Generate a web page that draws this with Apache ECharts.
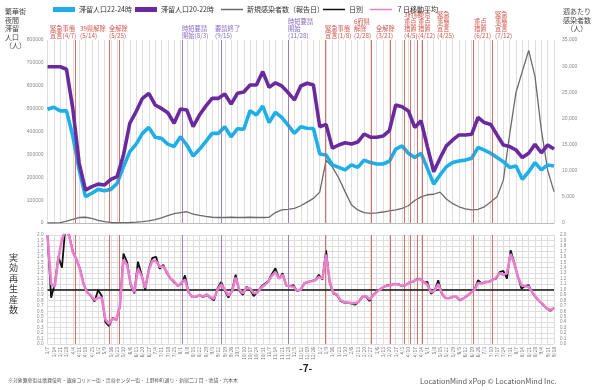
<!DOCTYPE html>
<html><head><meta charset="utf-8">
<script src="https://cdn.jsdelivr.net/npm/echarts@6/dist/echarts.min.js"></script>
<style>html,body{margin:0;padding:0;background:#fff}#c{width:600px;height:390px}</style>
</head><body><div id="c"></div><script>
// weekly labels (start 2020/3/7)
const weekLabels = ['3/7','3/14','3/21','3/28','4/4','4/11','4/18','4/25','5/2','5/9','5/16','5/23','5/30','6/6','6/13','6/20','6/27','7/4','7/11','7/18','7/25','8/1','8/8','8/15','8/22','8/29','9/5','9/12','9/19','9/26','10/3','10/10','10/17','10/24','10/31','11/7','11/14','11/21','11/28','12/5','12/12','12/19','12/26','1/2','1/9','1/16','1/23','1/30','2/6','2/13','2/20','2/27','3/6','3/13','3/20','3/27','4/3','4/10','4/17','4/24','5/1','5/8','5/15','5/22','5/29','6/5','6/12','6/19','6/26','7/3','7/10','7/17','7/24','7/31','8/7','8/14','8/21','8/28','9/4','9/11','9/18'];
// 滞留人口22-24時 (weekly)
const pop2224 = [497000,506000,490000,490000,380000,232000,115000,130000,147000,141000,
147000,173000,246000,312000,345000,392000,418000,375000,370000,345000,
334000,377000,341000,293000,322000,356000,392000,392000,421000,377000,
412000,410000,491000,472000,511000,439000,484000,462000,428000,392000,
421000,414000,413000,302000,297000,254000,243000,232000,254000,243000,
275000,264000,258000,258000,270000,323000,337000,305000,286000,305000,
239000,170000,210000,246000,264000,271000,275000,283000,331000,319000,
305000,286000,268000,243000,249000,191000,224000,264000,232000,254000,249000];
// 滞留人口20-22時 (weekly)
const pop2022 = [683000,683000,683000,672000,500000,262000,144000,159000,170000,166000,
191000,203000,297000,436000,487000,545000,567000,516000,501000,482000,
436000,498000,494000,421000,472000,511000,545000,545000,564000,520000,
567000,573000,603000,603000,662000,593000,613000,599000,570000,538000,
599000,611000,603000,421000,431000,327000,341000,351000,345000,354000,
389000,375000,375000,380000,404000,516000,508000,490000,418000,447000,
334000,224000,283000,337000,363000,385000,385000,388000,462000,439000,
431000,385000,341000,334000,319000,286000,305000,344000,307000,341000,323000];
// 新規感染者数（報告日）weekly
const infections = [20,40,80,350,700,1050,1100,900,500,250,
100,50,60,100,150,250,400,650,1000,1400,
1800,2000,2150,1700,1450,1250,1100,1050,1050,1100,
1050,1050,1100,1050,1050,1100,2000,2500,2600,2800,
3300,4000,4700,5900,12000,10700,8600,6000,3500,2500,
2000,1850,1950,2100,2300,2500,2800,3300,4300,5000,
5400,5500,5900,4600,3700,3100,2700,2500,2600,3100,
4000,5000,8200,17000,25000,29000,33000,28000,17800,10100,6000];
// 実効再生産数, sampled every 4 days from 2020/3/7
const rtDaily = [2.0,0.85,1.1,1.6,1.4,2.2,2.0,1.7,1.55,1.38,
1.1,0.95,0.88,0.78,0.99,0.88,0.40,0.33,0.48,0.44,
0.68,1.66,1.5,1.08,0.93,1.51,1.28,0.99,1.38,1.58,
1.6,1.38,1.45,1.3,1.2,1.13,1.08,1.1,1.26,0.95,
0.86,0.86,0.9,0.86,0.9,0.85,0.8,1.02,1.14,0.98,
0.85,0.98,1.27,0.98,0.9,1.05,1.0,0.88,0.95,1.05,
1.1,1.15,1.28,1.39,1.2,1.3,1.07,1.06,1.08,0.97,
1.0,1.12,1.13,1.16,1.17,1.27,1.18,1.72,1.12,0.93,
0.9,0.79,0.76,0.76,0.74,0.72,0.78,0.87,0.87,0.79,
0.9,0.96,1.01,1.05,1.08,1.09,1.1,1.1,1.06,1.08,
1.13,1.14,1.19,1.2,1.13,1.14,0.92,0.98,1.17,0.92,
0.84,0.84,0.86,0.86,0.8,0.84,0.88,0.94,1.0,1.17,
1.11,1.13,1.14,1.18,1.2,1.32,1.34,1.2,1.72,1.5,
1.24,1.02,1.06,1.08,0.94,0.85,0.78,0.72,0.65,0.61,0.66];
const rtMA7 = [2.0,1.1,1.05,1.57,1.92,2.1,1.98,1.68,1.56,1.36,
1.09,0.94,0.89,0.81,0.85,0.85,0.45,0.37,0.47,0.44,
0.70,1.55,1.45,1.10,0.95,1.38,1.25,1.03,1.35,1.53,
1.52,1.42,1.42,1.32,1.2,1.15,1.06,1.12,1.18,0.95,
0.87,0.87,0.90,0.87,0.91,0.86,0.83,1.00,1.09,1.00,
0.89,0.96,1.22,1.00,0.93,1.03,1.02,0.93,0.94,1.03,
1.08,1.14,1.25,1.32,1.20,1.27,1.08,1.06,1.05,0.98,
1.00,1.11,1.14,1.15,1.17,1.23,1.2,1.64,1.15,0.94,
0.91,0.80,0.77,0.76,0.75,0.75,0.77,0.86,0.88,0.82,
0.89,0.96,1.00,1.05,1.07,1.08,1.10,1.09,1.07,1.08,
1.12,1.15,1.18,1.19,1.14,1.09,0.95,0.98,1.10,0.93,
0.84,0.84,0.87,0.87,0.81,0.84,0.89,0.94,0.99,1.12,
1.11,1.14,1.14,1.17,1.22,1.30,1.27,1.30,1.65,1.48,
1.24,1.08,1.06,1.05,0.95,0.86,0.78,0.73,0.65,0.63,0.65];
const rtStepDays = 4;
// events: day offset from 2020/3/7, kind, label
const eventDays = [31,68,79,149,192,266,307,358,379,394,401,409,414,471,492];
const eventKinds = ['r','r','r','p','p','p','r','r','r','r','r','r','r','r','r'];
const eventTexts = [
 {t:'緊急事態\n宣言(4/7)',x:50,k:'r'},
 {t:'39県解除\n(5/14)',x:80,k:'r'},
 {t:'全解除\n(5/25)',x:109,k:'r'},
 {t:'時短要請\n開始(8/3)',x:182,k:'p'},
 {t:'要請終了\n(9/15)',x:215,k:'p'},
 {t:'時短要請\n開始\n(11/28)',x:288,k:'p'},
 {t:'緊急事態\n宣言(1/8)',x:325,k:'r'},
 {t:'6府県\n解除\n(2/28)',x:354,k:'r'},
 {t:'全解除\n(3/21)',x:376,k:'r'},
 {t:'3府県\n重点\n措置\n(4/5)',x:404,k:'r'},
 {t:'東京\n重点\n措置\n(4/12)',x:418,k:'r'},
 {t:'緊急\n事態\n宣言\n(4/25)',x:437,k:'r'},
 {t:'重点\n措置\n(6/21)',x:474,k:'r'},
 {t:'緊急\n事態\n宣言\n(7/12)',x:495,k:'r'}
];

const RED = '#d0574f', PUR = '#8a6cc0';
const FONT = '"Noto Sans CJK JP","Noto Sans",sans-serif';
const weekly = arr => arr.map((v,i)=>[i*7, v]);
const stepped = arr => arr.map((v,i)=>[i*rtStepDays, v]);
const evLines = eventDays.map((d,i)=>({xAxis:d, lineStyle:{color: eventKinds[i]==='r'?RED:PUR, width:1, type:'solid', opacity:0.85}}));

const graphics = [];
eventTexts.forEach(e=>{
  const n = e.t.split('\n').length;
  graphics.push({type:'text', left:e.x, top:39.5 - n*7.2, style:{text:e.t, fill:e.k==='r'?RED:PUR, font:'6.3px '+FONT, lineHeight:7.2}});
});
graphics.push({type:'text', left:5, top:7, style:{text:'繁華街\n夜間\n滞留\n人口\n（人）', fill:'#444', font:'7px '+FONT, lineHeight:8.6}});
graphics.push({type:'text', left:563, top:7, style:{text:'週あたり\n感染者数\n  （人）', fill:'#444', font:'7px '+FONT, lineHeight:8.6}});
graphics.push({type:'text', left:9, top:252, style:{text:'実\n効\n再\n生\n産\n数', fill:'#333', font:'9px '+FONT, lineHeight:10.5}});
graphics.push({type:'text', left:8, top:378, style:{text:'※対象繁華街は歌舞伎町・銀座コリドー街・渋谷センター街・上野仲町通り・新宿二丁目・池袋・六本木', fill:'#555', font:'4.9px '+FONT}});
graphics.push({type:'text', left:420, top:377, style:{text:'LocationMind xPop © LocationMind Inc.', fill:'#555', font:'7.4px '+FONT}});
graphics.push({type:'text', left:299, top:363, style:{text:'-7-', fill:'#222', font:'bold 10px '+FONT}});

const legendBase = (name, left, h) => ({
  data:[name], left:left, top:1, icon:'rect', itemWidth:22, itemHeight:h, itemGap:2,
  textStyle:{fontSize:7, color:'#333', fontFamily:FONT, padding:[0,0,0,-1]}, selectedMode:false
});

const option = {
  animation:false,
  backgroundColor:'#fff',
  legend:[
    legendBase('滞留人口22-24時', 48, 5),
    legendBase('滞留人口20-22時', 130, 5),
    legendBase('新規感染者数（報告日）', 216, 1.5),
    legendBase('日別', 318, 1.5),
    legendBase('７日移動平均', 365, 1.5)
  ],
  graphic: graphics,
  grid:[
    {left:47.5, right:46, top:40, height:183},
    {left:47.5, right:46, top:235, height:109}
  ],
  xAxis:[
    {type:'value', gridIndex:0, min:0, max:560, interval:7,
     axisLine:{lineStyle:{color:'#bbb'}}, axisTick:{show:false}, axisLabel:{show:false},
     splitLine:{show:true, lineStyle:{color:'#dedede', width:1}}},
    {type:'value', gridIndex:1, min:0, max:560, interval:7,
     axisLine:{show:false}, axisTick:{show:false},
     axisLabel:{show:true, rotate:90, fontSize:5, color:'#777', margin:3, fontFamily:FONT,
       formatter:v=>weekLabels[Math.round(v/7)]||''},
     splitLine:{show:true, lineStyle:{color:'#dedede', width:1}}}
  ],
  yAxis:[
    {type:'value', gridIndex:0, min:0, max:800000, interval:100000,
     axisLine:{show:false}, axisTick:{show:false}, splitLine:{show:false},
     axisLabel:{fontSize:5, color:'#888', margin:4, formatter:v=>String(v)}},
    {type:'value', gridIndex:0, min:0, max:35000, interval:5000, position:'right',
     axisLine:{show:false}, axisTick:{show:false}, splitLine:{show:false},
     axisLabel:{fontSize:5, color:'#888', margin:8}},
    {type:'value', gridIndex:1, min:0, max:2, interval:0.1,
     axisLine:{show:false}, axisTick:{show:false},
     splitLine:{show:true, lineStyle:{color:'#dedede'}},
     axisLabel:{fontSize:4.6, color:'#888', margin:4, formatter:v=>v.toFixed(1)}},
    {type:'value', gridIndex:1, min:0, max:2, interval:0.1, position:'right',
     axisLine:{show:false}, axisTick:{show:false}, splitLine:{show:false},
     axisLabel:{fontSize:4.6, color:'#888', margin:6, formatter:v=>v.toFixed(1)}}
  ],
  series:[
    {name:'新規感染者数（報告日）', type:'line', xAxisIndex:0, yAxisIndex:1, data:weekly(infections),
     showSymbol:false, lineStyle:{color:'#6b6b6b', width:1.3}, itemStyle:{color:'#6b6b6b'}, z:2,
     markLine:{silent:true, symbol:['none','none'], label:{show:false}, data:evLines}},
    {name:'滞留人口22-24時', type:'line', xAxisIndex:0, yAxisIndex:0, data:weekly(pop2224),
     showSymbol:false, lineStyle:{color:'#1eaee8', width:3.6}, itemStyle:{color:'#1eaee8'}, z:4},
    {name:'滞留人口20-22時', type:'line', xAxisIndex:0, yAxisIndex:0, data:weekly(pop2022),
     showSymbol:false, lineStyle:{color:'#6a2a9e', width:3.6}, itemStyle:{color:'#6a2a9e'}, z:5},
    {name:'日別', type:'line', xAxisIndex:1, yAxisIndex:2, data:stepped(rtDaily),
     showSymbol:false, lineStyle:{color:'#111', width:1.8}, itemStyle:{color:'#111'}, z:4,
     markLine:{silent:true, symbol:['none','none'], label:{show:false},
       data:[...evLines, {yAxis:1, lineStyle:{color:'#111', width:1.5, type:'solid'}}]}},
    {name:'７日移動平均', type:'line', xAxisIndex:1, yAxisIndex:2, data:stepped(rtMA7),
     showSymbol:false, lineStyle:{color:'#ea7fcf', width:2.6}, itemStyle:{color:'#ea7fcf'}, z:5}
  ]
};
echarts.init(document.getElementById('c')).setOption(option);
</script></body></html>
